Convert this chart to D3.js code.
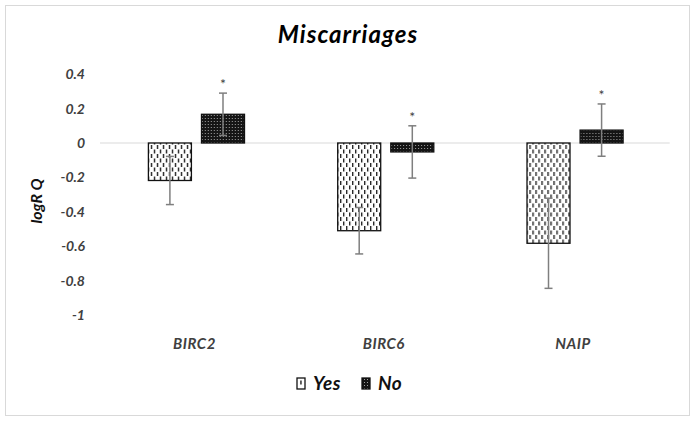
<!DOCTYPE html>
<html><head><meta charset="utf-8">
<script src="https://cdn.jsdelivr.net/npm/d3@7"></script>
<style>
html,body{margin:0;padding:0;background:#fff;}
svg text{font-family:Lato,"Open Sans",sans-serif;font-weight:bold;font-style:italic;}
</style></head><body>
<svg id="chart" width="696" height="421"></svg>
<script>
const categories = ["BIRC2", "BIRC6", "NAIP"];
const seriesNames = ["Yes", "No"];
const yesValues = [-0.218, -0.51, -0.583];
const yesErrors = [0.14, 0.135, 0.262];
const noValues = [0.167, -0.052, 0.075];
const noErrors = [0.123, 0.152, 0.152];
const significant = [true, true, true]; // asterisk above "No" bars
const yTicks = [0.4, 0.2, 0, -0.2, -0.4, -0.6, -0.8, -1];
const tickLabels = ["0.4", "0.2", "0", "-0.2", "-0.4", "-0.6", "-0.8", "-1"];
const titleText = "Miscarriages";
const yLabel = "logR Q";

const svg = d3.select("#chart");

// outer frame
svg.append("rect").attr("x", 5.5).attr("y", 5.5).attr("width", 684).attr("height", 410)
  .attr("fill", "#fff").attr("stroke", "#d9d9d9").attr("stroke-width", 1);

const defs = svg.append("defs");
// Yes pattern: white with staggered vertical dashes
const py = defs.append("pattern").attr("id", "patYes").attr("patternUnits", "userSpaceOnUse")
  .attr("width", 6).attr("height", 9);
py.append("rect").attr("width", 6).attr("height", 9).attr("fill", "#fff");
py.append("rect").attr("x", 1).attr("y", 1).attr("width", 1.3).attr("height", 4).attr("fill", "#111");
py.append("rect").attr("x", 4).attr("y", 5.5).attr("width", 1.3).attr("height", 4).attr("fill", "#111");
py.append("rect").attr("x", 4).attr("y", -3.5).attr("width", 1.3).attr("height", 4).attr("fill", "#111");
// No pattern: dark with small light dots
const pn = defs.append("pattern").attr("id", "patNo").attr("patternUnits", "userSpaceOnUse")
  .attr("width", 3).attr("height", 3);
pn.append("rect").attr("width", 3).attr("height", 3).attr("fill", "#151515");
pn.append("rect").attr("x", 1).attr("y", 1).attr("width", 1).attr("height", 1).attr("fill", "#a0a0a0");

const y = d3.scaleLinear().domain([-1, 0.4]).range([315, 74.2]);
const x0 = d3.scaleBand().domain(categories).range([101.8, 669.7]).paddingInner(0).paddingOuter(0);
const x1 = d3.scaleBand().domain(seriesNames).range([46.6, x0.bandwidth() - 46.6]).paddingInner(0.19).paddingOuter(0);

// title
svg.append("text").attr("x", 348).attr("y", 43).attr("text-anchor", "middle")
  .attr("font-size", 24).attr("letter-spacing", 1).attr("fill", "#000").text(titleText);

// y axis labels (no line)
const yAxis = d3.axisLeft(y).tickValues(yTicks).tickSize(0).tickPadding(0)
  .tickFormat((d, i) => tickLabels[i]);
const gy = svg.append("g").attr("transform", "translate(85,0)").call(yAxis);
gy.select(".domain").remove();
gy.selectAll("text").attr("font-size", 14).attr("fill", "#404040")
  .style("font-family", "Lato, sans-serif").style("font-weight", "bold").style("font-style", "italic");

// y label
svg.append("text").attr("transform", "translate(42,201) rotate(-90)").attr("text-anchor", "middle")
  .attr("font-size", 16).attr("fill", "#111").text(yLabel);

// zero line
svg.append("line").attr("x1", 100).attr("x2", x0.range()[1]).attr("y1", y(0)).attr("y2", y(0))
  .attr("stroke", "#d9d9d9").attr("stroke-width", 1.2);

const data = categories.map((c, i) => ({
  cat: c,
  vals: [
    {s: "Yes", v: yesValues[i], e: yesErrors[i]},
    {s: "No", v: noValues[i], e: noErrors[i]}
  ],
  sig: significant[i]
}));

const groups = svg.append("g").selectAll("g").data(data).join("g")
  .attr("transform", d => `translate(${x0(d.cat)},0)`);

groups.selectAll("rect.bar").data(d => d.vals).join("rect").attr("class", "bar")
  .attr("x", d => x1(d.s)).attr("width", x1.bandwidth())
  .attr("y", d => Math.min(y(0), y(d.v)))
  .attr("height", d => Math.abs(y(d.v) - y(0)))
  .attr("fill", d => d.s === "Yes" ? "url(#patYes)" : "url(#patNo)")
  .attr("stroke", "#111").attr("stroke-width", 1.3);

// error bars
const eb = groups.selectAll("g.err").data(d => d.vals).join("g").attr("class", "err")
  .attr("stroke", "#7f7f7f").attr("stroke-width", 1.5);
eb.append("line")
  .attr("x1", d => x1(d.s) + x1.bandwidth() / 2).attr("x2", d => x1(d.s) + x1.bandwidth() / 2)
  .attr("y1", d => y(d.v + d.e)).attr("y2", d => y(d.v - d.e));
eb.append("line")
  .attr("x1", d => x1(d.s) + x1.bandwidth() / 2 - 4).attr("x2", d => x1(d.s) + x1.bandwidth() / 2 + 4)
  .attr("y1", d => y(d.v + d.e)).attr("y2", d => y(d.v + d.e));
eb.append("line")
  .attr("x1", d => x1(d.s) + x1.bandwidth() / 2 - 4).attr("x2", d => x1(d.s) + x1.bandwidth() / 2 + 4)
  .attr("y1", d => y(d.v - d.e)).attr("y2", d => y(d.v - d.e));

// asterisks
groups.filter(d => d.sig).append("text")
  .attr("x", d => x1("No") + x1.bandwidth() / 2)
  .attr("y", d => y(d.vals[1].v + d.vals[1].e) - 4)
  .attr("text-anchor", "middle").attr("font-size", 14).attr("fill", "#404040")
  .style("font-style", "normal").style("font-weight", "normal").text("*");

// category labels
svg.append("g").selectAll("text").data(categories).join("text")
  .attr("x", d => x0(d) + x0.bandwidth() / 2 - 2).attr("y", 349)
  .attr("text-anchor", "middle").attr("font-size", 15).attr("letter-spacing", 0.5)
  .attr("fill", "#404040").text(d => d);

// legend
const legend = svg.append("g");
const legItems = [{s: "Yes", x: 297}, {s: "No", x: 362}];
legItems.forEach(it => {
  legend.append("rect").attr("x", it.x).attr("y", 378).attr("width", 8).attr("height", 11)
    .attr("fill", it.s === "Yes" ? "#fff" : "url(#patNo)").attr("stroke", "#111").attr("stroke-width", 1.3);
  if (it.s === "Yes") {
    legend.append("rect").attr("x", it.x + 3.3).attr("y", 380.5).attr("width", 1.3).attr("height", 4).attr("fill", "#111");
  }
  legend.append("text").attr("x", it.x + 16).attr("y", 390).attr("font-size", 19).attr("letter-spacing", 0.5)
    .attr("fill", "#111").text(it.s);
});
</script>
</body></html>
